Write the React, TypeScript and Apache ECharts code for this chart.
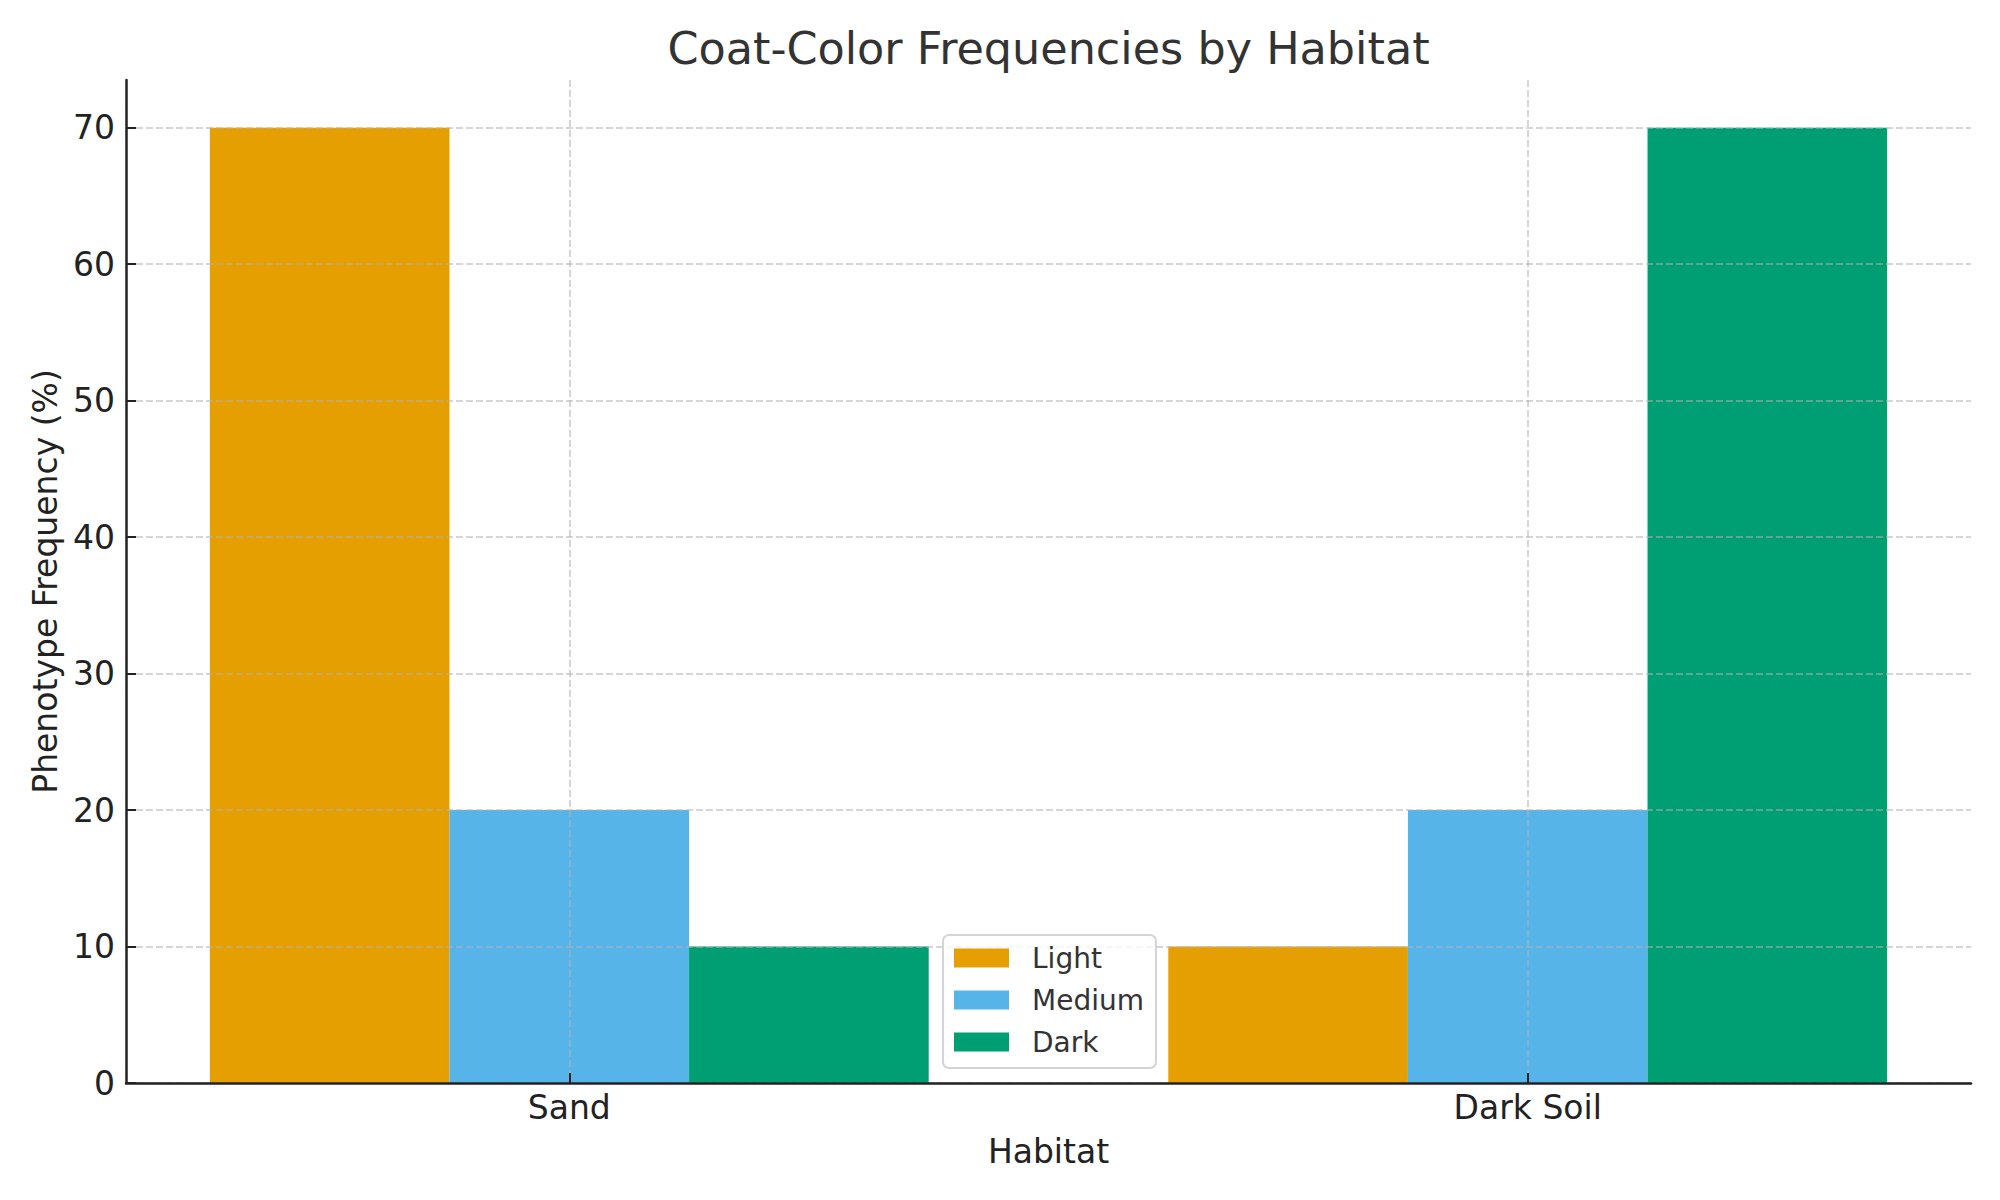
import React, { useEffect, useRef } from "react";
import * as echarts from "echarts";

const categories = ["Sand", "Dark Soil"];
const seriesNames = ["Light", "Medium", "Dark"];
const lightValues = [70, 10];
const mediumValues = [20, 20];
const darkValues = [10, 70];
const yTicks = [0, 10, 20, 30, 40, 50, 60, 70];
const xTicks = [0, 1];
const colors = ["#E69F00", "#56B4E9", "#009E73"];
const titleText = "Coat-Color Frequencies by Habitat";

const BAR_W = 0.25;
const FONT = "DejaVu Sans";

export default function App() {
  const ref = useRef<HTMLDivElement>(null);
  useEffect(() => {
    document.body.style.margin = "0";
    const chart = echarts.init(ref.current!, null, { renderer: "svg" });
    const allValues = [lightValues, mediumValues, darkValues];
    const series = seriesNames.map((name, si) => {
      const offset = (si - 1) * BAR_W;
      return {
        name,
        type: "custom",
        z: 2,
        itemStyle: { color: colors[si] },
        encode: { x: 0, y: 1 },
        data: categories.map((_, ci) => [ci, allValues[si][ci]]),
        renderItem: (params: any, api: any) => {
          const x = api.value(0);
          const y = api.value(1);
          const p0 = api.coord([x + offset - BAR_W / 2, 0]);
          const p1 = api.coord([x + offset + BAR_W / 2, y]);
          return {
            type: "rect",
            shape: { x: p0[0], y: p1[1], width: p1[0] - p0[0], height: p0[1] - p1[1] },
            style: { fill: colors[si] },
          };
        },
      };
    });
    const gridLine = {
      show: true,
      lineStyle: { color: "rgba(176,176,176,0.7)", width: 1.5, type: [7, 3] as any },
    };
    chart.setOption({
      animation: false,
      backgroundColor: "#ffffff",
      graphic: [
        {
          type: "text",
          x: 1048.5,
          y: 48,
          z: 30,
          style: {
            text: titleText,
            fontFamily: FONT,
            fontSize: 44.5,
            fill: "#333333",
            textAlign: "center",
            textVerticalAlign: "middle",
          },
        },
      ],
      grid: { left: 126, right: 29, top: 80, bottom: 117 },
      legend: {
        data: seriesNames.map((n) => ({ name: n, icon: "rect" })),
        orient: "vertical",
        left: 943,
        top: 935,
        itemWidth: 55,
        itemHeight: 19,
        itemGap: 14,
        padding: [9, 12, 12, 11],
        backgroundColor: "rgba(255,255,255,0.8)",
        borderColor: "#d4d4d4",
        borderWidth: 2,
        borderRadius: 6,
        z: 20,
        textStyle: { fontFamily: FONT, fontSize: 28, color: "#333333", lineHeight: 28, padding: [0, 0, 0, 18] },
      },
      xAxis: {
        type: "value",
        min: -0.4625,
        max: 1.4625,
        z: 10,
        name: "Habitat",
        nameLocation: "middle",
        nameGap: 52,
        nameTextStyle: { fontFamily: FONT, fontSize: 33, color: "#222222" },
        axisLine: { show: true, onZero: false, lineStyle: { color: "#222222", width: 2.5 } },
        axisTick: { show: true, inside: true, length: 10, customValues: xTicks, lineStyle: { color: "#222222", width: 2 } },
        axisLabel: {
          customValues: xTicks,
          margin: 8,
          fontFamily: FONT,
          fontSize: 33,
          color: "#222222",
          formatter: (v: number) => categories[Math.round(v)] ?? "",
        },
        splitLine: gridLine,
      },
      yAxis: {
        type: "value",
        min: 0,
        max: 73.5,
        z: 10,
        name: "Phenotype Frequency (%)",
        nameLocation: "middle",
        nameGap: 64,
        nameTextStyle: { fontFamily: FONT, fontSize: 33, color: "#222222" },
        axisLine: { show: true, onZero: false, lineStyle: { color: "#222222", width: 2.5 } },
        axisTick: { show: true, inside: true, length: 10, customValues: yTicks, lineStyle: { color: "#222222", width: 2 } },
        axisLabel: { customValues: yTicks, margin: 11, fontFamily: FONT, fontSize: 33, color: "#222222" },
        splitLine: gridLine,
      },
      series,
    } as any);
    return () => chart.dispose();
  }, []);
  return <div ref={ref} style={{ width: 2000, height: 1200 }} />;
}
